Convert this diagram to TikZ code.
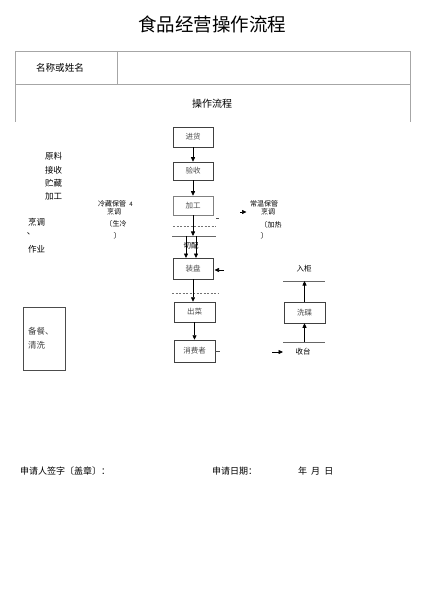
\documentclass[tikz,border=0pt]{standalone}
\usepackage{fontspec}
\setmainfont{Noto Sans CJK SC}
\usetikzlibrary{arrows.meta}
\begin{document}
\begin{tikzpicture}[x=1pt,y=-1pt,
  flowbox/.style={draw=black!75,line width=0.5pt,minimum width=40pt,minimum height=20pt,inner sep=0pt,font=\fontsize{7.5}{8}\selectfont,text=black!70},
  lbl/.style={inner sep=0pt,font=\fontsize{8.5}{9}\selectfont},
  small/.style={inner sep=0pt,font=\fontsize{7}{8}\selectfont},
  arr/.style={-{Triangle[length=4.5pt,width=4pt]},line width=0.7pt},
  tbl/.style={draw=black!35,line width=0.6pt},
  bar/.style={draw=black!60,line width=0.5pt},
  dsh/.style={draw=black!55,line width=0.5pt,dashed,dash pattern=on 2pt off 1.5pt}]
\useasboundingbox (0,0) rectangle (425,601);
\fill[white] (0,0) rectangle (425,601);
% title
\node[inner sep=0pt,font=\fontsize{18.5}{20}\selectfont] (title) at (212,24) {食品经营操作流程};
% table
\draw[tbl] (15,122) -- (15,51) -- (410,51) -- (410,122);
\draw[tbl] (15,84) -- (410,84);
\draw[tbl] (117,51) -- (117,84);
\node[inner sep=0pt,font=\fontsize{9.6}{10}\selectfont] (name) at (60,68) {名称或姓名};
\node[inner sep=0pt,font=\fontsize{10}{11}\selectfont] (proc) at (212,104) {操作流程};
% flow boxes
\node[flowbox] (jh) at (193,137) {进货};
\node[flowbox,minimum height=18pt] (ys) at (193,171) {验收};
\node[flowbox,draw=black!50,minimum height=19pt] (jg) at (193,205.5) {加工};
\node[flowbox,minimum height=21pt] (zp) at (193,268.5) {装盘};
\node[flowbox,minimum width=41pt] (cc) at (194.5,312) {出菜};
\node[flowbox,minimum width=41pt,minimum height=22pt] (xf) at (194.5,351) {消费者};
\node[flowbox,minimum width=41pt,minimum height=21pt] (xd) at (304.5,312.5) {洗碟};
% bars
\coordinate (d1l) at (173,226); \coordinate (d1r) at (216,226);
\draw[dsh] (d1l) -- (d1r);
\coordinate (b1l) at (172,236); \coordinate (b1r) at (216,236);
\draw[bar] (b1l) -- (b1r);
\coordinate (d2l) at (172,293); \coordinate (d2r) at (219,293);
\draw[dsh] (d2l) -- (d2r);
\coordinate (b2l) at (283,281); \coordinate (b2r) at (325,281);
\draw[bar] (b2l) -- (b2r);
\coordinate (b3l) at (283,342); \coordinate (b3r) at (325,342);
\draw[bar] (b3l) -- (b3r);
% arrows
\draw[arr] (jh.south) -- (ys.north);
\draw[arr] (ys.south) -- (jg.north);
\draw[arr] (jg.south) -- (193,236);
\draw[arr] (186,236) -- (186,258);
\draw[arr] (196,236) -- (196,258);
\draw[arr] (zp.south) -- (cc.north -| zp.south);
\draw[arr] (cc.south) -- (xf.north);
\draw[arr] (xd.north) -- (304.5,281);
\draw[arr] (304.5,342) -- (xd.south);
\coordinate (za) at (224,270);
\draw[arr] (za) -- (214.5,270);
\coordinate (sa) at (272,352);
\draw[arr] (sa) -- (283,352);
\coordinate (ra) at (240,212);
\draw[arr] (ra) -- (246.5,212);
% ticks
\draw[black!70,line width=0.4pt] (216,218) -- (219,218);
\draw[black!70,line width=0.4pt] (215,351) -- (220,351);
% 切配
\node[small,font=\fontsize{7.5}{8}\selectfont] (qp) at (191,246) {切配};
% left column
\node[lbl] (t1) at (53.5,156) {原料};
\node[lbl] (t2) at (53.5,170) {接收};
\node[lbl] (t3) at (53.5,183) {贮藏};
\node[lbl] (t4) at (53.5,196) {加工};
\node[lbl] (t5) at (36.5,222) {烹调};
\node[lbl] (t6) at (31,234) {、};
\node[lbl] (t7) at (36.5,249) {作业};
% left storage
\node[small] (lc) at (112,204) {冷藏保管};
\node[small,font=\fontsize{6}{7}\selectfont] (lc4) at (131,204) {4};
\node[small] (lc2) at (114,212) {烹调};
\node[small] (lc3) at (116,223.5) {〔生冷};
\node[small] (lc5) at (117,236) {〕};
% right storage
\node[small] (rc) at (264,204) {常温保管};
\node[small] (rc2) at (268,212) {烹调};
\node[small] (rc3) at (271,225) {〔加热};
\node[small] (rc5) at (264,236) {〕};
% right labels
\node[small,font=\fontsize{7.5}{8}\selectfont] (rg) at (304,269) {入柜};
\node[small,font=\fontsize{7.5}{8}\selectfont] (st) at (303,352) {收台};
% left box
\node[draw=black!70,line width=0.5pt,minimum width=42pt,minimum height=63pt,inner sep=0pt] (bc) at (44.5,338.5) {};
\node[inner sep=0pt,align=left,font=\fontsize{8.5}{14}\selectfont,text=black!75,anchor=west] (bct) at (28,338) {备餐、\\清洗};
% bottom
\node[inner sep=0pt,font=\fontsize{9}{10}\selectfont,anchor=west] (sig) at (20,471) {申请人签字〔盖章〕：};
\node[inner sep=0pt,font=\fontsize{9}{10}\selectfont,anchor=west] (dt) at (212,471) {申请日期：};
\node[inner sep=0pt,font=\fontsize{9}{10}\selectfont,anchor=west] (ymd) at (298,471) {年\ \ 月\ \ 日};
\end{tikzpicture}
\end{document}
